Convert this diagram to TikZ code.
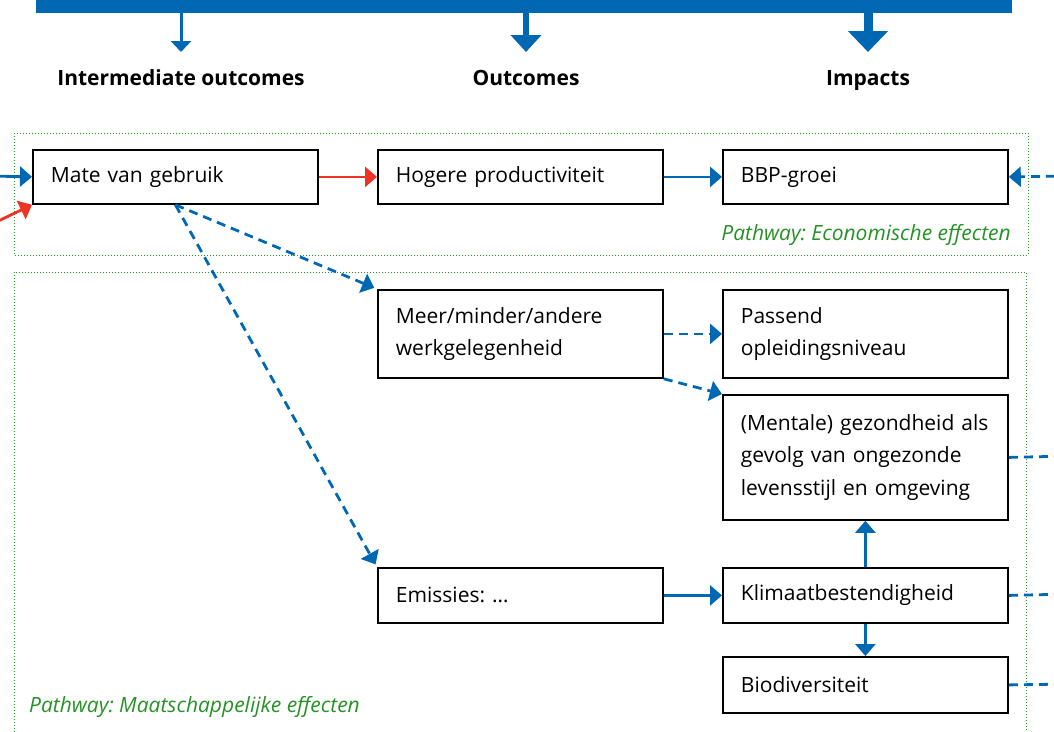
\documentclass[tikz,border=0pt]{standalone}
\usepackage{fontspec}
\setmainfont{Open Sans}
\usetikzlibrary{arrows.meta}
\definecolor{rblue}{RGB}{0,104,179}
\definecolor{rred}{RGB}{238,50,36}
\definecolor{pgreen}{RGB}{36,146,36}
\frenchspacing
\begin{document}
\begin{tikzpicture}[x=1pt,y=-1pt,
  box/.style={draw=black, line width=1.8pt, text width=249pt, inner xsep=18pt, inner ysep=0pt,
    align=left, anchor=north west, font=\fontsize{21}{32.5}\selectfont},
  head/.style={font=\bfseries\fontsize{21}{26}\selectfont, inner sep=0pt},
  pathlabel/.style={font=\itshape\fontsize{21}{26}\selectfont, text=pgreen, inner sep=0pt},
  group/.style={draw=pgreen, line width=1pt, dash pattern=on 1pt off 2pt},
  link/.style={draw=rblue, line width=2.8pt, -{Triangle[length=12pt,width=20pt]}},
  dlink/.style={link, dash pattern=on 9pt off 6pt},
  dline/.style={draw=rblue, line width=2.8pt, dash pattern=on 9pt off 6pt},
  rlink/.style={link, draw=rred, -{Triangle[length=12pt,width=20pt]}, color=rred}]
\useasboundingbox (0,0) rectangle (1054,731);
\clip (0,0) rectangle (1054,731);

% header bar and the three column arrows
\node[fill=rblue, minimum width=976pt, minimum height=30pt, inner sep=0pt, anchor=south west] (bar) at (36,13) {};
\coordinate (t1) at (181,52);
\coordinate (t2) at (526,52);
\coordinate (t3) at (868,52);
\draw[draw=rblue, line width=3pt, -{Triangle[length=11pt,width=20pt]}] (bar.south -| t1) -- (t1);
\draw[draw=rblue, line width=6pt, -{Triangle[length=17pt,width=30pt]}] (bar.south -| t2) -- (t2);
\draw[draw=rblue, line width=9pt, -{Triangle[length=21pt,width=39pt]}] (bar.south -| t3) -- (t3);
\node[head, anchor=base] (io) at (181,85) {Intermediate outcomes};
\node[head, anchor=base] (oc) at (526,85) {Outcomes};
\node[head, anchor=base] (im) at (868,85) {Impacts};

% pathway groups
\draw[group] (14,133) rectangle (1028,255);
\draw[group] (14,272) rectangle (1026,745);
\node[pathlabel, anchor=base east] (pe) at (1011,240) {Pathway: Economische effecten};
\node[pathlabel, anchor=base west] (pm) at (29,712) {Pathway: Maatschappelijke effecten};

% boxes
\node[box, minimum height=54pt] (mate) at (32,149) {Mate van gebruik};
\node[box, minimum height=54pt] (hog) at (377,149) {Hogere productiviteit};
\node[box, minimum height=54pt] (bbp) at (722,149) {BBP-groei};
\node[box, minimum height=88pt] (meer) at (377,289) {Meer/minder/andere\\werkgelegenheid};
\node[box, minimum height=88pt] (pas) at (722,289) {Passend\\opleidingsniveau};
\node[box, minimum height=125pt] (ment) at (722,394) {(Mentale) gezondheid als\\gevolg van ongezonde\\levensstijl en omgeving};
\node[box, minimum height=55pt] (emis) at (377,567) {Emissies: …};
\node[box, minimum height=55pt] (klim) at (722,567) {Klimaatbestendigheid};
\node[box, minimum height=56pt] (bio) at (722,656) {Biodiversiteit};

% free ends outside the frame
\coordinate (inL) at (-10,176);
\coordinate (inR) at (-10,225);
\coordinate (outB) at (1070,176);
\coordinate (outM) at (1070,456);
\coordinate (outK) at (1070,594);
\coordinate (outBi) at (1070,684);

% connectors
\draw[link] (inL) -- (mate.west);
\draw[rlink] (inR) -- (mate.south west);
\draw[rlink] (mate.east) -- (hog.west);
\draw[link] (hog.east) -- (bbp.west);
\draw[dlink] (outB) -- (bbp.east);
\draw[dlink, shorten >=3pt] (mate.south) -- (meer.north west);
\draw[dlink, shorten >=3pt] (mate.south) -- (emis.north west);
\draw[dlink] (meer.east) -- (pas.west);
\draw[dlink] (meer.south east) -- (ment.north west);
\draw[link] (emis.east) -- (klim.west);
\draw[link] (klim.north) -- (ment.south);
\draw[link] (klim.south) -- (bio.north);
\draw[dline] (ment.east) -- (outM);
\draw[dline] (klim.east) -- (outK);
\draw[dline] (bio.east) -- (outBi);
\end{tikzpicture}
\end{document}
